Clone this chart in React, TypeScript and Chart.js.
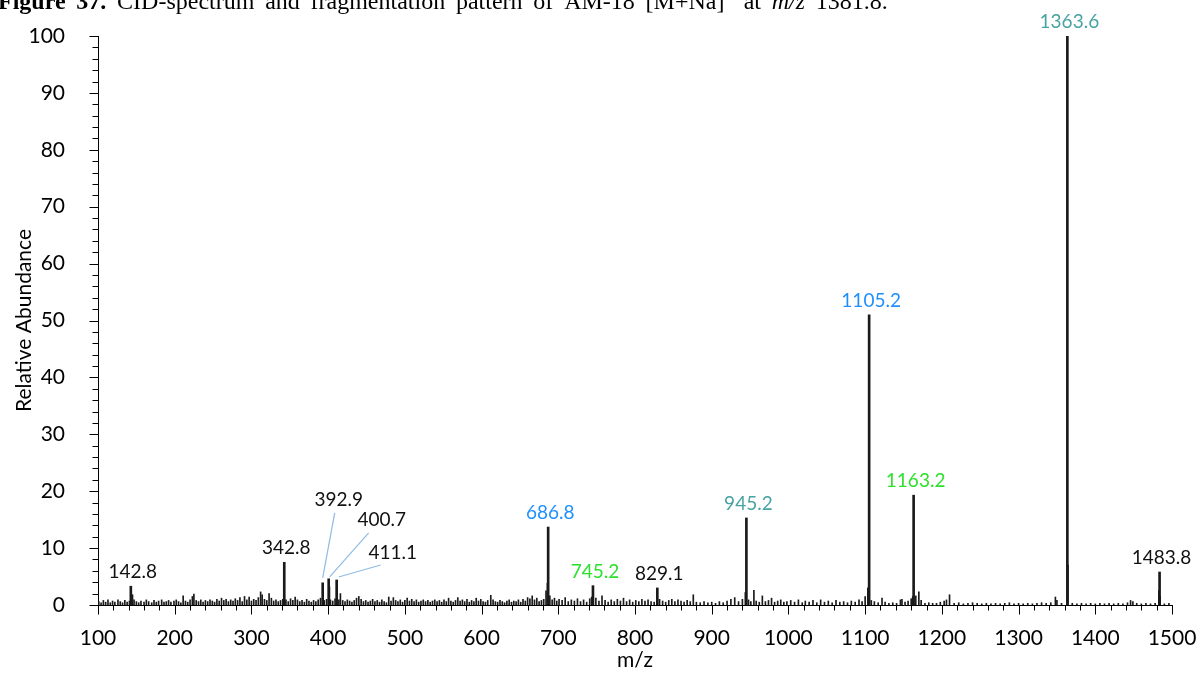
import { useEffect, useRef } from "react";
import { Chart, registerables } from "chart.js";

Chart.register(...registerables);

// ---- Data ----
const xTickValues = [100, 200, 300, 400, 500, 600, 700, 800, 900, 1000, 1100, 1200, 1300, 1400, 1500];
const yTickValues = [0, 10, 20, 30, 40, 50, 60, 70, 80, 90, 100];

// labelled fragment peaks
const peakMz = [142.8, 342.8, 392.9, 400.7, 411.1, 686.8, 745.2, 829.1, 945.2, 1105.2, 1163.2, 1363.6, 1483.8];
const peakAbundance = [3.3, 7.5, 3.9, 4.6, 4.4, 13.7, 3.4, 3.0, 15.3, 51.0, 19.3, 100.0, 5.8];
const peakLabels = ["142.8", "342.8", "392.9", "400.7", "411.1", "686.8", "745.2", "829.1", "945.2", "1105.2", "1163.2", "1363.6", "1483.8"];
const peakColors = ["#111111", "#111111", "#111111", "#111111", "#111111", "#1f8fff", "#2ee02e", "#111111", "#48a3a3", "#1f8fff", "#2ee02e", "#48a3a3", "#111111"];

// unlabelled small signals (noise / isotopes)
const noiseMz = [
  101, 104, 107, 110, 113, 116, 119, 122, 126, 129, 132, 135, 138, 141, 145, 147, 150, 153, 156, 160,
  163, 166, 170, 173, 176, 179, 183, 186, 189, 192, 195, 199, 202, 205, 208, 211, 214, 217, 220, 223,
  225, 228, 231, 234, 237, 240, 243, 246, 249, 252, 255, 258, 261, 264, 267, 270, 273, 276, 279, 282,
  285, 288, 291, 294, 297, 300, 303, 306, 309, 312, 314, 317, 320, 323, 326, 329, 332, 335, 338, 341,
  345, 348, 351, 354, 357, 360, 363, 366, 369, 372, 375, 378, 381, 384, 387, 390, 395, 398, 401.7, 403,
  406, 409, 414, 416, 419, 422, 425, 428, 431, 434, 437, 440, 443, 446, 449, 452, 455, 458, 461, 464,
  467, 470, 473, 476, 479, 482, 485, 488, 491, 494, 497, 500, 503, 506, 509, 512, 515, 518, 521, 524,
  527, 530, 533, 536, 539, 542, 545, 548, 551, 554, 557, 560, 563, 566, 569, 572, 575, 578, 581, 584,
  587, 590, 593, 596, 599, 602, 605, 608, 612, 615, 618, 621, 624, 627, 630, 633, 636, 639, 642, 645,
  648, 651, 654, 657, 660, 663, 666, 669, 672, 675, 678, 681, 684, 685.8, 689, 692, 695, 698,
  701, 705, 709, 713, 717, 721, 725, 729, 733, 737, 741, 743.5, 749, 753, 757, 761, 765, 769, 773, 777,
  781, 785, 789, 793, 797, 801, 805, 809, 813, 817, 821, 825, 832, 836, 840, 844, 848, 852, 856, 860,
  864, 868, 872, 876, 880, 885, 890, 895, 900, 905, 910, 915, 920, 925, 930, 935, 940, 943.8, 948, 951,
  955, 958, 962, 966, 970, 974, 978, 982, 986, 990, 994, 998,
  1003, 1008, 1013, 1018, 1022, 1027, 1032, 1037, 1042, 1047, 1052, 1057, 1062, 1067, 1072, 1077, 1082, 1087, 1092, 1096,
  1100, 1103.5, 1108, 1112, 1117, 1122, 1126, 1131, 1136, 1141, 1146, 1148, 1152, 1156, 1160, 1162, 1166, 1170, 1173, 1178,
  1183, 1188, 1193, 1198, 1203, 1206, 1210, 1216, 1222, 1228, 1234, 1240, 1246, 1252, 1258, 1264, 1270, 1276, 1282, 1288,
  1294, 1300, 1306, 1312, 1318, 1324, 1330, 1336, 1342, 1348, 1350, 1356, 1364.4, 1370, 1376, 1382, 1388, 1394, 1400, 1406,
  1412, 1418, 1424, 1430, 1436, 1442, 1446, 1449, 1454, 1460, 1466, 1472, 1478, 1482.8, 1484.6, 1490, 1496,
];
const noiseAbundance = [
  0.6, 0.4, 0.8, 0.5, 0.9, 0.4, 0.7, 0.5, 0.9, 0.6, 0.4, 0.8, 0.5, 0.7, 1.8, 0.9, 0.6, 0.4, 0.7, 0.5,
  0.9, 0.6, 0.4, 0.8, 0.5, 0.7, 0.9, 0.5, 0.6, 0.8, 0.5, 0.7, 0.9, 0.6, 0.4, 1.6, 0.7, 0.5, 0.9, 1.5,
  1.9, 0.8, 0.6, 0.9, 0.5, 0.8, 0.6, 0.9, 0.7, 0.5, 1.0, 0.7, 1.2, 0.8, 1.0, 0.6, 0.9, 0.7, 1.1, 0.8,
  1.3, 0.6, 1.5, 0.9, 1.4, 0.7, 1.0, 0.8, 1.3, 2.3, 1.8, 1.0, 0.8, 2.0, 1.2, 0.7, 0.9, 0.6, 0.8, 1.0,
  0.9, 0.6, 1.1, 0.8, 1.4, 0.9, 0.6, 0.8, 0.5, 1.0, 0.7, 0.5, 0.8, 0.6, 0.9, 1.2, 0.8, 1.0, 3.2, 0.9,
  0.7, 1.1, 0.9, 2.0, 0.8, 0.6, 0.9, 0.7, 0.5, 0.8, 1.2, 1.5, 1.0, 0.6, 0.8, 0.5, 0.7, 1.0, 0.6, 0.8,
  0.5, 0.9, 0.6, 0.4, 1.4, 0.7, 1.3, 0.8, 0.6, 0.9, 0.5, 0.8, 1.2, 0.7, 1.0, 0.6, 0.9, 0.5, 0.7, 0.9,
  0.6, 0.8, 0.5, 0.7, 0.9, 0.6, 0.8, 0.5, 0.9, 0.6, 1.2, 0.7, 0.5, 0.8, 1.3, 0.7, 0.9, 0.6, 1.0, 0.5,
  0.8, 0.6, 1.2, 0.7, 1.0, 0.6, 0.5, 0.8, 1.7, 0.9, 0.6, 0.5, 0.8, 0.6, 0.4, 0.7, 0.9, 0.5, 0.7, 0.6,
  0.9, 0.5, 1.0, 0.7, 1.3, 1.1, 1.6, 0.9, 1.2, 0.6, 0.8, 1.0, 2.5, 3.8, 1.6, 0.9, 1.2, 0.7,
  1.0, 0.8, 1.3, 0.6, 0.9, 0.7, 1.1, 0.6, 0.9, 0.5, 1.1, 1.4, 1.2, 0.7, 1.6, 0.8, 0.5, 0.9, 0.6, 1.0,
  0.7, 1.2, 0.6, 0.9, 0.5, 0.8, 0.6, 1.0, 0.7, 0.9, 0.6, 0.5, 1.0, 0.7, 0.5, 0.8, 1.0, 0.6, 0.9, 0.7,
  0.5, 0.8, 0.6, 1.8, 0.5, 0.4, 0.6, 0.4, 0.5, 0.3, 0.6, 0.4, 0.7, 1.0, 1.3, 0.6, 1.0, 2.2, 0.9, 0.6,
  2.6, 0.7, 0.5, 1.6, 0.6, 0.8, 1.2, 0.5, 0.7, 0.9, 0.5, 0.6,
  0.8, 0.5, 0.9, 0.4, 0.7, 0.5, 0.8, 0.4, 0.9, 0.5, 0.7, 0.4, 0.8, 0.5, 0.6, 0.4, 0.7, 0.5, 0.9, 0.6,
  1.5, 3.0, 0.8, 0.6, 0.4, 1.2, 0.5, 0.3, 0.4, 0.3, 0.9, 1.0, 0.5, 0.7, 1.1, 1.5, 1.6, 2.3, 0.8, 0.3,
  0.4, 0.3, 0.3, 0.5, 0.7, 0.9, 1.8, 0.3, 0.4, 0.2, 0.3, 0.4, 0.3, 0.2, 0.3, 0.2, 0.3, 0.2, 0.3, 0.4,
  0.2, 0.3, 0.2, 0.3, 0.2, 0.3, 0.4, 0.3, 0.4, 1.4, 0.8, 0.3, 7.0, 0.3, 0.2, 0.3, 0.2, 0.3, 0.2, 0.3,
  0.2, 0.3, 0.2, 0.3, 0.2, 0.4, 0.8, 0.6, 0.3, 0.2, 0.3, 0.2, 0.3, 2.5, 1.5, 0.2, 0.3,
];

// ---- Layout / style (label placement relative to peak top, in px) ----
const LABEL_FONT = "19px Lato, 'Open Sans', sans-serif";
const AXIS_FONT_FAMILY = "Lato, 'Open Sans', sans-serif";
const LEADER_COLOR = "#8fbbe3";
const labelPlacement: Record<string, { dx: number; dy: number; lx1?: number; ly1?: number; lx2?: number; ly2?: number }> = {
  "392.9": { dx: 16, dy: -83, lx1: 0, ly1: -5, lx2: 12, ly2: -70 },
  "400.7": { dx: 53, dy: -59, lx1: 1, ly1: -2, lx2: 40, ly2: -46 },
  "411.1": { dx: 56, dy: -27, lx1: 2, ly1: -3, lx2: 44, ly2: -15 },
};

const decorPlugin = {
  id: "spectrumDecor",
  afterDraw(chart: any) {
    const { ctx, scales } = chart;
    const x = scales.x;
    const y = scales.y;
    const axisX = Math.round(x.left) + 0.5;
    const axisY = Math.round(y.bottom) + 0.5;
    ctx.save();
    ctx.strokeStyle = "#000";
    ctx.lineWidth = 1;
    // y ticks (major every 10, minor every 2)
    for (let v = 0; v <= 100; v += 2) {
      const py = Math.round(y.getPixelForValue(v)) + 0.5;
      const len = v % 10 === 0 ? 9 : 6;
      ctx.beginPath();
      ctx.moveTo(axisX - len, py);
      ctx.lineTo(axisX, py);
      ctx.stroke();
    }
    // x ticks (major every 100, minor every 20)
    for (let v = 100; v <= 1500; v += 20) {
      const px = Math.round(x.getPixelForValue(v)) + 0.5;
      const len = v % 100 === 0 ? 9 : 5;
      ctx.beginPath();
      ctx.moveTo(px, axisY);
      ctx.lineTo(px, axisY + len);
      ctx.stroke();
    }
    // labels
    ctx.font = LABEL_FONT;
    ctx.textAlign = "center";
    ctx.textBaseline = "middle";
    peakMz.forEach((mz, i) => {
      const px = x.getPixelForValue(mz);
      const py = y.getPixelForValue(peakAbundance[i]);
      const lbl = peakLabels[i];
      const pl = labelPlacement[lbl];
      if (pl) {
        ctx.strokeStyle = LEADER_COLOR;
        ctx.lineWidth = 1.2;
        ctx.beginPath();
        ctx.moveTo(px + (pl.lx1 || 0), py + (pl.ly1 || 0));
        ctx.lineTo(px + (pl.lx2 || 0), py + (pl.ly2 || 0));
        ctx.stroke();
        ctx.fillStyle = peakColors[i];
        ctx.fillText(lbl, px + pl.dx, py + pl.dy);
      } else {
        ctx.fillStyle = peakColors[i];
        ctx.fillText(lbl, px + 2, py - 14);
      }
    });
    ctx.restore();
  },
};

export default function App() {
  const canvasRef = useRef<HTMLCanvasElement | null>(null);

  useEffect(() => {
    const canvas = canvasRef.current;
    if (!canvas) return;
    const chart = new Chart(canvas, {
      type: "bar",
      data: {
        datasets: [
          {
            label: "noise",
            data: noiseMz.map((m, i) => ({ x: m, y: noiseAbundance[i] })),
            backgroundColor: "#1a1a1a",
            barThickness: 1,
            grouped: false,
          } as any,
          {
            label: "peaks",
            data: peakMz.map((m, i) => ({ x: m, y: peakAbundance[i] })),
            backgroundColor: "#1a1a1a",
            barThickness: 2,
            grouped: false,
          } as any,
        ],
      },
      plugins: [decorPlugin],
      options: {
        animation: false,
        responsive: false,
        maintainAspectRatio: false,
        layout: { padding: { top: 36, right: 32, left: 0, bottom: 0 } },
        plugins: { legend: { display: false }, tooltip: { enabled: false }, title: { display: false } },
        scales: {
          x: {
            type: "linear",
            min: 100,
            max: 1500,
            offset: false,
            afterBuildTicks: (s: any) => {
              s.ticks = xTickValues.map((v) => ({ value: v }));
            },
            afterFit: (s: any) => {
              s.height = 68;
              s.paddingLeft = 0;
              s.paddingRight = 0;
            },
            grid: { display: false },
            border: { display: true, color: "#000", width: 1 },
            ticks: {
              padding: 13,
              color: "#000",
              maxRotation: 0,
              autoSkip: false,
              callback: (v: any) => String(v),
              font: { family: AXIS_FONT_FAMILY, size: 21 },
            },
            title: {
              display: true,
              text: "m/z",
              color: "#000",
              padding: { top: 0, bottom: 0 },
              font: { family: AXIS_FONT_FAMILY, size: 21 },
            },
          },
          y: {
            type: "linear",
            min: 0,
            max: 100,
            afterBuildTicks: (s: any) => {
              s.ticks = yTickValues.map((v) => ({ value: v }));
            },
            afterFit: (s: any) => {
              s.width = 98;
              s.paddingTop = 0;
              s.paddingBottom = 0;
            },
            grid: { display: false },
            border: { display: true, color: "#000", width: 1 },
            ticks: {
              padding: 25,
              color: "#000",
              autoSkip: false,
              callback: (v: any) => String(v),
              font: { family: AXIS_FONT_FAMILY, size: 21 },
            },
            title: {
              display: true,
              text: "Relative Abundance",
              color: "#000",
              padding: { top: 12, bottom: 0 },
              font: { family: AXIS_FONT_FAMILY, size: 21 },
            },
          },
        },
      } as any,
    });
    return () => chart.destroy();
  }, []);

  return (
    <div style={{ position: "fixed", left: 0, top: 0, width: 1204, height: 673, background: "#fff", overflow: "hidden" }}>
      <canvas ref={canvasRef} width={1204} height={673} style={{ position: "absolute", left: 0, top: 0 }} />
      <div
        style={{
          position: "absolute",
          left: -2,
          top: -11,
          width: 890,
          fontFamily: "'Liberation Serif', 'Times New Roman', serif",
          fontSize: 24,
          lineHeight: "24px",
          whiteSpace: "nowrap",
          display: "flex",
          alignItems: "baseline",
          justifyContent: "space-between",
          color: "#000",
        }}
      >
        <b>Figure</b>
        <b>37.</b>
        <span>CID-spectrum</span>
        <span>and</span>
        <span>fragmentation</span>
        <span>pattern</span>
        <span>of</span>
        <span>AM-18</span>
        <span>
          [M+Na]<sup style={{ fontSize: 15, lineHeight: 0 }}>+</sup>
        </span>
        <span>at</span>
        <i>m/z</i>
        <span>1381.8.</span>
      </div>
    </div>
  );
}
